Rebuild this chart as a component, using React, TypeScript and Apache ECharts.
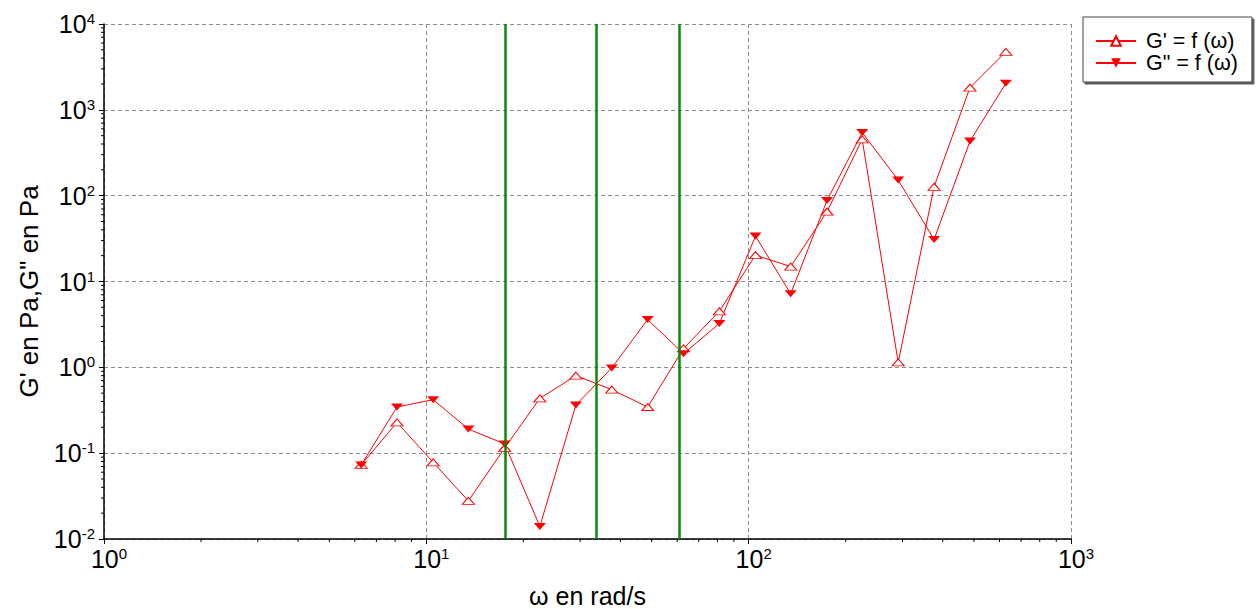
import React, { useEffect, useRef } from 'react';
import * as echarts from 'echarts';

// ---- data ----
const OMEGA = [6.28, 8.11, 10.5, 13.5, 17.5, 22.5, 29.1, 37.6, 48.6, 62.8, 81.1, 105, 135, 175, 225, 291, 376, 486, 628];
const G_PRIME = [0.073, 0.228, 0.078, 0.0278, 0.115, 0.435, 0.80, 0.55, 0.345, 1.66, 4.5, 20.3, 14.9, 65, 453, 1.14, 127, 1820, 4740];
const G_DOUBLE = [0.073, 0.345, 0.42, 0.191, 0.128, 0.014, 0.364, 0.985, 3.6, 1.44, 3.24, 33.8, 7.2, 88, 543, 152, 30.9, 433, 2040];
const GREEN_LINES = [17.6, 33.7, 60.7];

const X_RANGE = [1, 1000];
const Y_RANGE = [0.01, 10000];
const MINOR_MULTS = [2, 3, 4, 5, 6, 7, 8, 9];
const X_DECADES = [1, 10, 100];
const Y_DECADES = [0.01, 0.1, 1, 10, 100, 1000];

const NAME_GP = "G' = f (\u03c9)";
const NAME_GPP = 'G" = f (\u03c9)';
const X_TITLE = '\u03c9 en rad/s';
const Y_TITLE = 'G\' en Pa,G" en Pa';

const FONT = "'Liberation Sans', Arial, Helvetica, sans-serif";

export default function App() {
  const ref = useRef<HTMLDivElement>(null);

  useEffect(() => {
    document.body.style.margin = '0';
    const chart = echarts.init(ref.current as HTMLDivElement, null, { renderer: 'svg' });

    const xMinor = X_DECADES.flatMap((d) => MINOR_MULTS.map((m) => [m * d, Y_RANGE[0]]));
    const yMinor = Y_DECADES.flatMap((d) => MINOR_MULTS.map((m) => [X_RANGE[0], m * d]));

    const powLabel = (v: number) => `{b|10}{s|${Math.round(Math.log10(v))}}`;
    const rich = {
      b: { fontSize: 25, fontFamily: FONT, color: '#000', lineHeight: 26 },
      s: { fontSize: 15, fontFamily: FONT, color: '#000', lineHeight: 15, verticalAlign: 'top' },
    };
    const gridLine = { show: true, lineStyle: { color: '#8c8c8c', width: 1, type: [4, 3] } };
    const axisLine = { show: true, onZero: false, lineStyle: { color: '#000', width: 1.5 } };

    chart.setOption({
      animation: false,
      backgroundColor: '#fff',
      grid: { left: 104, right: 186, top: 24, bottom: 70, containLabel: false, outerBoundsMode: 'none' },
      legend: {
        orient: 'vertical',
        left: 1083,
        top: 17,
        data: [NAME_GP, NAME_GPP],
        itemWidth: 40,
        itemHeight: 12,
        itemGap: 0,
        padding: [13, 14, 8, 12],
        backgroundColor: '#fff',
        borderColor: '#444',
        borderWidth: 1,
        shadowColor: 'rgba(0,0,0,0.65)',
        shadowOffsetX: 2,
        shadowOffsetY: 2,
        shadowBlur: 0,
        selectedMode: false,
        textStyle: { fontSize: 21.5, lineHeight: 18, fontFamily: FONT, color: '#000', padding: [0, 0, 0, 5] },
      },
      xAxis: {
        type: 'log',
        logBase: 10,
        min: X_RANGE[0],
        max: X_RANGE[1],
        name: X_TITLE,
        nameLocation: 'middle',
        nameGap: 44,
        nameTextStyle: { fontSize: 25, fontFamily: FONT, color: '#000' },
        axisLine,
        axisTick: { show: true, length: 5, lineStyle: { color: '#000', width: 1 } },
        minorTick: { show: false },
        axisLabel: { formatter: powLabel, rich, margin: 7, padding: [0, 0, 0, 10] },
        splitLine: gridLine,
      },
      yAxis: {
        type: 'log',
        logBase: 10,
        min: Y_RANGE[0],
        max: Y_RANGE[1],
        name: Y_TITLE,
        nameLocation: 'middle',
        nameGap: 62,
        nameTextStyle: { fontSize: 26, fontFamily: FONT, color: '#000', padding: [0, 20, 0, 0] },
        axisLine,
        axisTick: { show: true, length: 5, lineStyle: { color: '#000', width: 1 } },
        minorTick: { show: false },
        axisLabel: { formatter: powLabel, rich, margin: 9 },
        splitLine: gridLine,
      },
      series: [
        {
          name: NAME_GP,
          type: 'line',
          data: OMEGA.map((x, i) => [x, G_PRIME[i]]),
          symbol: 'triangle',
          symbolSize: [12, 7],
          showSymbol: true,
          lineStyle: { color: '#ff0000', width: 1 },
          itemStyle: { color: '#ffffff', borderColor: '#ff0000', borderWidth: 1 },
          emphasis: { disabled: true },
          z: 3,
          markLine: {
            silent: true,
            symbol: ['none', 'none'],
            label: { show: false },
            lineStyle: { color: '#0a8a0a', width: 2.5, type: 'solid' },
            emphasis: { disabled: true },
            data: GREEN_LINES.map((x) => ({ xAxis: x })),
          },
        },
        {
          name: NAME_GPP,
          type: 'line',
          data: OMEGA.map((x, i) => [x, G_DOUBLE[i]]),
          symbol: 'triangle',
          symbolRotate: 180,
          symbolSize: [12, 7],
          showSymbol: true,
          lineStyle: { color: '#ff0000', width: 1 },
          itemStyle: { color: '#ff0000', borderColor: '#ff0000', borderWidth: 0 },
          emphasis: { disabled: true },
          z: 3,
        },
        {
          type: 'custom',
          silent: true,
          clip: false,
          data: xMinor,
          renderItem: (_p: any, api: any) => {
            const pt = api.coord([api.value(0), Y_RANGE[0]]);
            return {
              type: 'line',
              shape: { x1: pt[0], y1: pt[1], x2: pt[0], y2: pt[1] + 3 },
              style: { stroke: '#000', lineWidth: 1 },
            };
          },
        },
        {
          type: 'custom',
          silent: true,
          clip: false,
          data: yMinor,
          renderItem: (_p: any, api: any) => {
            const pt = api.coord([X_RANGE[0], api.value(1)]);
            return {
              type: 'line',
              shape: { x1: pt[0] - 3, y1: pt[1], x2: pt[0], y2: pt[1] },
              style: { stroke: '#000', lineWidth: 1 },
            };
          },
        },
      ],
    });

    return () => chart.dispose();
  }, []);

  return <div ref={ref} style={{ width: 1257, height: 609 }} />;
}
